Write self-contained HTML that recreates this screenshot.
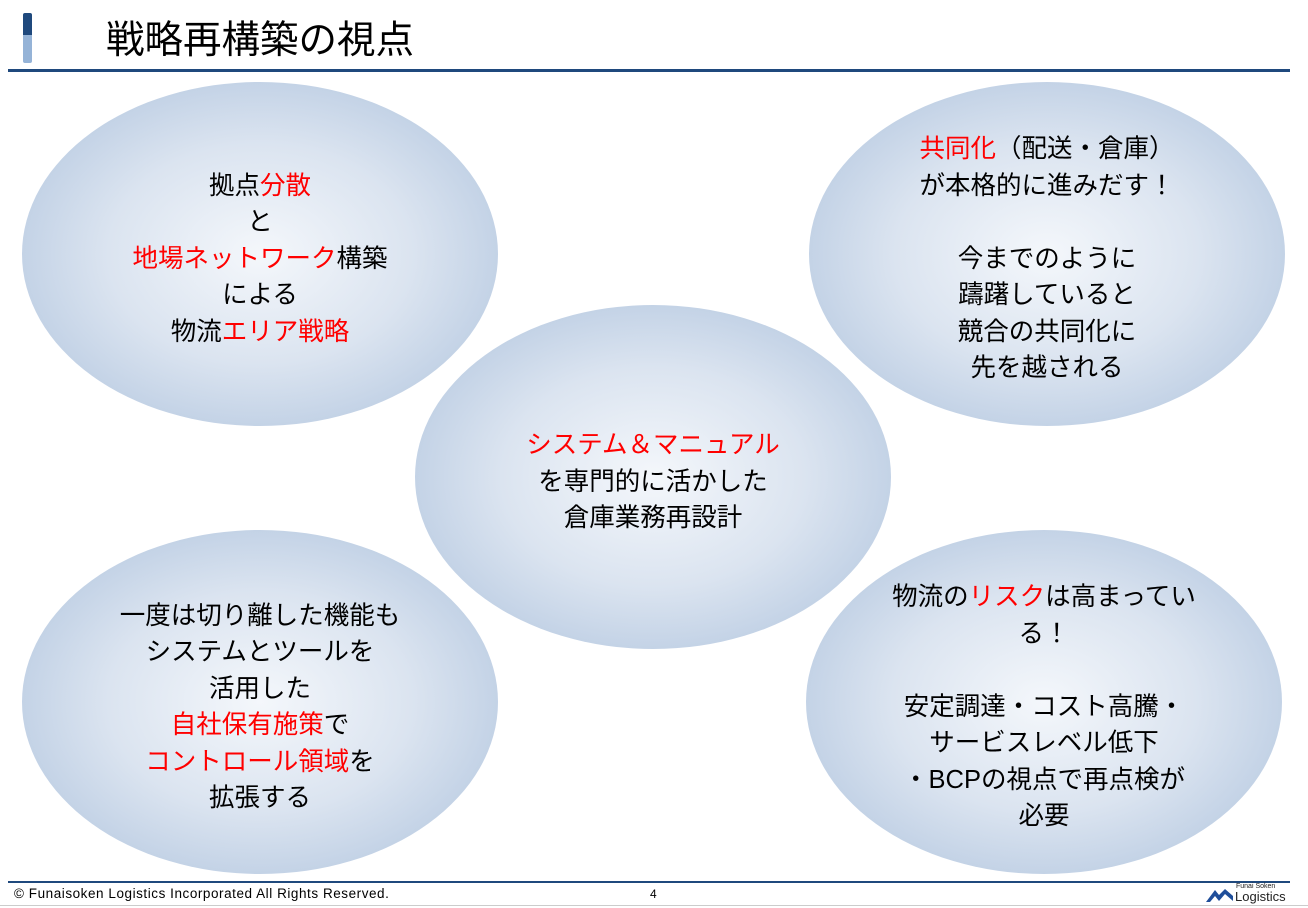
<!DOCTYPE html>
<html><head><meta charset="utf-8"><style>
body{margin:0;width:1308px;height:908px;background:#fff;position:relative;overflow:hidden;font-family:"Liberation Sans","Noto Sans CJK JP",sans-serif;}
.e{position:absolute;width:476px;height:344px;border-radius:50%;background:radial-gradient(ellipse at 50% 50%,#f4f7fb 0%,#dbe4f0 45%,#a9bfdb 100%);display:flex;align-items:center;justify-content:center;text-align:center;font-size:25.5px;line-height:36.5px;color:#000;box-sizing:border-box;padding-top:10px;}
.r{color:#f00;}
</style></head><body>
<div style="position:absolute;left:23px;top:13px;width:9px;height:25px;background:#1f497d;border-radius:2px 2px 0 0"></div>
<div style="position:absolute;left:23px;top:35px;width:9px;height:28px;background:#95b3d7;border-radius:0 0 2px 2px"></div>
<div style="position:absolute;left:106px;top:17px;font-size:38.5px;line-height:48px;">戦略再構築の視点</div>
<div style="position:absolute;left:8px;top:69px;width:1282px;height:3px;background:#1f497d"></div>

<div class="e" style="left:22px;top:82px"><div>拠点<span class="r">分散</span><br>と<br><span class="r">地場ネットワーク</span>構築<br>による<br>物流<span class="r">エリア戦略</span></div></div>
<div class="e" style="left:809px;top:82px"><div><span class="r">共同化</span>（配送・倉庫）<br>が本格的に進みだす！<br><br>今までのように<br>躊躇していると<br>競合の共同化に<br>先を越される</div></div>
<div class="e" style="left:415px;top:305px"><div><span class="r">システム＆マニュアル</span><br>を専門的に活かした<br>倉庫業務再設計</div></div>
<div class="e" style="left:22px;top:530px"><div>一度は切り離した機能も<br>システムとツールを<br>活用した<br><span class="r">自社保有施策</span>で<br><span class="r">コントロール領域</span>を<br>拡張する</div></div>
<div class="e" style="left:806px;top:530px"><div>物流の<span class="r">リスク</span>は高まってい<br>る！<br><br>安定調達・コスト高騰・<br>サービスレベル低下<br>・BCPの視点で再点検が<br>必要</div></div>

<div style="position:absolute;left:8px;top:881px;width:1282px;height:2px;background:#1f497d"></div>
<div style="position:absolute;left:0;top:905px;width:1308px;height:1px;background:#ccc"></div>
<div style="position:absolute;left:14px;top:886px;font-size:13.5px;line-height:16px;letter-spacing:0.55px;">© Funaisoken Logistics Incorporated All Rights Reserved.</div>
<div style="position:absolute;left:650px;top:886px;font-size:12px;line-height:16px;">4</div>
<svg style="position:absolute;left:1205px;top:884px" width="30" height="20" viewBox="0 0 30 20"><path d="M1 18 L10 6 L14 11 L20 5 L28 12 L28 17 L20 10 L14 17 L10 12 L5 18Z" fill="#1f4e9a"/></svg>
<div style="position:absolute;left:1236px;top:883px;font-size:7px;line-height:8px;color:#222">Funai Soken</div>
<div style="position:absolute;left:1235px;top:890px;font-size:13px;line-height:14px;color:#222">Logistics</div>
</body></html>
